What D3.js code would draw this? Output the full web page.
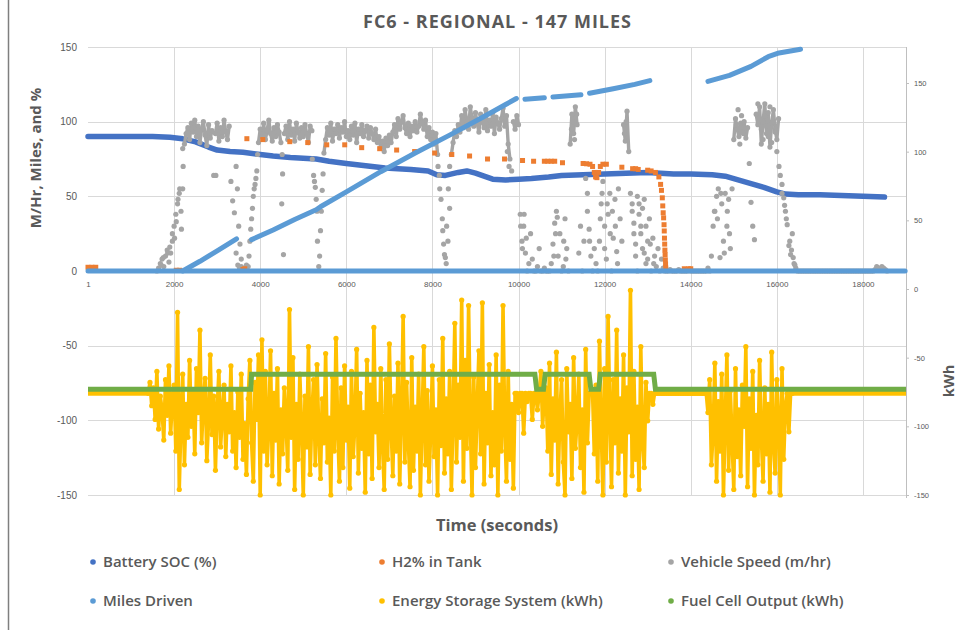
<!DOCTYPE html>
<html>
<head>
<meta charset="utf-8">
<script src="https://cdn.jsdelivr.net/npm/d3@7"></script>
<style>
  body { margin: 0; background: #fff; }
  svg { display: block; font-family: "Open Sans", sans-serif; }
  .tick text { fill: #595959; }
  .ttl { fill: #595959; font-weight: 700; }
</style>
</head>
<body>
<svg id="chart" width="959" height="630"></svg>
<script>
// ---- data (time in seconds) ----
const xTicks = [1, 2000, 4000, 6000, 8000, 10000, 12000, 14000, 16000, 18000];
const leftTicks = [150, 100, 50, 0, -50, -100, -150];
const rightTicks = [150, 100, 50, 0, -50, -100, -150];

// battery state of charge (%), [time, value]
const batterySOC = [[0,90],[500,90],[1000,90],[1500,90],[1900,89.5],[2200,88.5],[2500,86.5],[2800,83],[3000,81],
  [3300,80],[3600,79.5],[4000,78],[4300,77],[4700,76],[5000,75.5],[5300,75],[5600,73.5],[6000,72],[6300,71],
  [6600,70],[6900,69],[7200,68.5],[7500,68],[7900,67],[8100,64.5],[8300,64],[8600,66],[8800,67],[9000,65.5],
  [9200,63.5],[9400,61.5],[9700,61],[10000,61.5],[10300,62],[10700,63],[11000,64],[11500,64.5],[12000,65],
  [12500,65.5],[13000,66],[13300,65.5],[13600,65],[14000,65],[14500,64.5],[14800,63.5],[15100,61],[15400,58.5],
  [15700,56],[16000,53],[16200,51.5],[16500,51],[17000,51],[17500,50.5],[18000,50],[18500,49.5]];

// hydrogen left in tank (%), [time, value]
const h2Tank = [[0,2.5],[90,2.5],[180,2.5],[2050,0.5],[2130,0.5],[3600,1],[3640,1.5],[3690,88.6],[4060,88],
  [4687,86.6],[5104,86],[5545,84.5],[5963,84.5],[6357,82.6],[6775,81.9],[7169,81],[7587,80],[8051,79],[8450,78],
  [8863,77],[9280,75],[9675,75],[10093,74],[10350,73.5],[10600,73.5],[10680,73.5],[10760,73.5],[10840,73.5],
  [11021,72.5],[11500,72],[11580,71.8],[11660,71.5],[11720,70],[11760,66],[11790,63],[11820,62.5],[11860,66],
  [11900,70],[11960,71.5],[12040,71.5],[12400,69.5],[12650,68.5],[12720,68.5],[12780,68],[13000,67.5],[13080,67],
  [13180,66],[13260,63],[13300,58],[13320,54],[13340,49],[13350,43.6],[13360,39],[13370,35.6],[13380,31],
  [13385,26.8],[13390,22],[13395,18],[13400,14],[13405,11],[13410,7.5],[13415,4.7],[13420,2],[13850,1.5],
  [13950,1.5],[14000,1.5]];

// vehicle speed (m/hr), sampled every SPEED_STEP seconds from SPEED_T0
const SPEED_T0 = 1600, SPEED_STEP = 40, CRUISE_MIN = 75;
const vehicleSpeed = [
  0,2,5,8,3,10,14,6,12,20,30,38,45,52,40,55,85,92,96,88,99,93,101,90,97,
  86,95,100,91,84,98,89,94,64,92,99,87,96,90,101,93,88,97,60,47,39,12,4,2,3,
  1,2,4,3,20,35,50,58,67,86,95,90,99,88,94,101,92,87,96,90,98,93,86,65,92,
  97,88,100,91,95,87,99,93,89,96,90,98,92,86,97,94,64,56,40,3,27,54,79,88,96,
  91,99,87,95,92,98,89,96,93,100,90,94,88,97,91,99,86,95,92,98,90,94,97,89,96,
  92,88,95,86,90,83,87,80,89,84,91,86,93,98,90,102,95,100,104,96,92,99,90,97,94,
  100,93,97,105,99,95,101,90,96,88,93,85,92,78,64,48,27,11,5,20,42,78,86,94,90,
  98,93,104,96,108,100,95,110,102,97,106,99,93,105,100,96,108,94,101,97,106,92,103,99,95,
  102,109,97,104,85,75,67,100,95,104,98,38,20,30,12,0,5,25,8,0,0,3,15,0,0,
  2,0,0,0,5,18,32,40,10,25,0,3,35,15,0,85,105,92,110,98,12,30,0,20,62,
  52,28,10,0,15,5,0,20,45,60,30,8,38,52,0,22,48,13,55,35,20,98,87,107,80,
  52,40,25,10,0,45,30,15,48,5,20,35,0,22,10,3,15,0,8,2,0,0,0,1,0,
  0,0,0,1,0,0,0,0,0,1,0,0,0,0,0,0,0,0,0,0,2,0,10,30,40,
  50,55,9,45,20,52,30,48,15,55,88,102,95,90,99,93,100,89,96,72,46,30,21,105,98,
  110,85,100,112,92,106,83,99,108,95,88,102,64,58,49,40,31,17,11,25,5,2,0,0,0,
  0,0,0,0,0,0,0,0,0,0,0,0,0,0,0,0,0,0,0,0,0,0,0,0,0,
  0,0,0,0,0,0,0,0,0,0,0,0,0,0,0,0,0,1,3,2,1,3,2,1,0];
// extra speed readings at starts and stops, [time, value]
const speedExtra = [[1700,4],[1750,9],[1850,12],[1900,16],[1960,25],[2010,22],[2050,33],[2090,48],[2130,55],
  [2170,28],[2200,82],[2210,70],[2970,64],[3440,70],[3470,55],[3500,30],[3530,18],[3560,8],[3740,10],[3780,28],
  [3820,42],[3860,55],[3900,62],[3940,78],[4500,45],[4510,78],[4540,11],[5210,75],[5260,60],[5300,48],[5330,20],
  [5380,10],[5420,40],[5460,65],[8130,70],[8170,55],[8230,35],[8260,18],[8300,9],[8330,30],[8370,55],[8400,70],
  [9740,80],[9780,70],[10050,30],[10090,15],[10130,38],[10180,22],[10820,10],[10860,25],[10900,36],[11050,20],
  [11100,8],[11230,95],[11270,100],[11300,88],[11350,105],[11600,40],[11650,20],[11900,35],[11940,52],[12000,15],
  [12060,45],[12130,25],[12180,40],[12250,30],[12300,5],[12460,92],[12500,100],[12640,45],[12680,32],[12720,18],
  [12760,50],[12800,38],[12840,25],[12880,42],[12920,12],[12960,30],[13000,8],[13060,18],[13140,5],[14550,40],
  [14620,35],[14700,52],[14780,12],[14850,40],[14900,25],[15060,98],[15100,108],[15140,85],[15180,104],[15220,92],
  [15560,112],[15640,95],[15680,88],[15720,104],[15760,97],[15800,90],[15840,110],[15880,86],[15920,100],
  [15960,93],[16000,80],[16050,70],[16120,52],[16180,44],[16220,35],[16300,20],[16340,14],[16380,9],[16420,4]];

// miles driven, drawn as separate runs where the logger kept data
const milesDriven = [
  [[0,0],[18980,0]],
  [[2200,0],[2600,6.5],[3000,13.5],[3450,21.5]],
  [[3800,21],[4300,27.5],[4800,34.5],[5300,41],[5400,43],[6000,53],[6800,66.5],[7600,79],[8400,91],[9200,103.5],
   [9700,111.5],[9950,115.5]],
  [[10150,115],[10600,116]],
  [[10800,116.5],[11450,118]],
  [[11650,119],[12200,122],[12700,125],[13050,127.5]],
  [[14400,127],[14900,131],[15400,137],[15800,143.5],[16050,146],[16350,147.5],[16550,148.5]]];

// energy storage system (kWh), sampled every ESS_STEP seconds from ESS_T0
const ESS_T0 = 1400, ESS_STEP = 40, ESS_IDLE = -76;
const energyStorage = [
  -76,-68,-85,-72,-95,-60,-102,-78,-88,-110,-66,-92,-56,-105,-80,-70,-118,-17,-146,-95,-62,-128,-84,-108,-52,
  -100,-74,-120,-58,-90,-30,-112,-82,-65,-125,-96,-48,-106,-78,-132,-88,-60,-115,-92,-70,-122,-84,-104,-56,-118,
  -90,-130,-75,-108,-62,-124,-98,-135,-80,-52,-112,-140,-68,-95,-48,-150,-37,-118,-60,-128,-100,-45,-136,-76,-110,
  -58,-142,-88,-120,-72,-96,-132,-15,-108,-50,-146,-84,-124,-62,-100,-150,-78,-115,-42,-135,-92,-66,-128,-55,-104,
  -138,-80,-112,-47,-126,-94,-150,-64,-118,-36,-102,-140,-72,-130,-56,-110,-86,-145,-60,-122,-98,-44,-134,-76,-116,
  -90,-148,-52,-120,-70,-138,-28,-104,-84,-130,-58,-112,-146,-66,-124,-40,-100,-136,-78,-118,-54,-142,-92,-20,-126,
  -68,-110,-144,-50,-132,-86,-118,-62,-150,-96,-42,-128,-74,-140,-104,-56,-122,-88,-150,-66,-114,-36,-134,-80,-120,
  -60,-146,-92,-25,-126,-70,-108,-8,-140,-52,-116,-12,-98,-150,-64,-130,-86,-45,-120,-10,-142,-76,-112,-55,-136,
  -90,-128,-48,-150,-70,-118,-12,-100,-140,-60,-124,-84,-145,-76,-76,-90,-76,-76,-105,-76,-82,-76,-76,-95,-76,
  -76,-88,-76,-60,-100,-76,-72,-118,-54,-135,-80,-110,-46,-142,-92,-66,-126,-150,-58,-104,-84,-138,-50,-116,-96,
  -62,-130,-88,-148,-44,-112,-76,-76,-76,-120,-70,-140,-38,-100,-150,-58,-126,-20,-90,-144,-66,-112,-30,-134,-80,
  -118,-48,-150,-72,-104,-1,-136,-60,-124,-86,-146,-42,-110,-130,-68,-96,-76,-76,-84,-76,-76,-76,-76,-76,-76,
  -76,-76,-76,-76,-76,-76,-76,-76,-76,-76,-76,-76,-76,-76,-76,-76,-76,-76,-76,-76,-76,-76,-76,-76,-76,
  -90,-66,-128,-104,-54,-140,-82,-118,-62,-150,-96,-48,-132,-74,-110,-146,-58,-122,-88,-136,-70,-100,-42,-144,-80,
  -116,-60,-150,-92,-128,-52,-108,-140,-72,-120,-84,-148,-46,-112,-134,-66,-98,-150,-58,-124,-86,-76,-104,-76,-76];
const TIME_END = 19000;

// fuel cell output (kWh), [time, value]
const fuelCell = [[0,-73],[3780,-73],[3800,-62],[10380,-62],[10420,-73],[10580,-73],[10620,-62],[11640,-62],
  [11680,-73],[11860,-73],[11900,-62],[13140,-62],[13180,-73],[19000,-73]];

const legendItems = [
  { name: "Battery SOC (%)", color: "#4472C4" },
  { name: "H2% in Tank", color: "#ED7D31" },
  { name: "Vehicle Speed (m/hr)", color: "#A5A5A5" },
  { name: "Miles Driven", color: "#5B9BD5" },
  { name: "Energy Storage System (kWh)", color: "#FFC000" },
  { name: "Fuel Cell Output (kWh)", color: "#70AD47" }];

// ---- scales ----
const svg = d3.select("#chart");
const x = d3.scaleLinear().domain([0, TIME_END]).range([88, 906]);
const yL = d3.scaleLinear().domain([-150, 150]).range([495, 47]);
const yR = d3.scaleLinear().domain([-150, 150]).range([495, 83]);

// frame edge on the left
svg.append("line").attr("x1", 8.5).attr("x2", 8.5).attr("y1", 0).attr("y2", 630)
  .attr("stroke", "#7f7f7f").attr("stroke-width", 1.5);

// gridlines
const grid = svg.append("g").attr("stroke", "#D9D9D9").attr("stroke-width", 1);
grid.selectAll(".h").data(leftTicks).enter().append("line")
  .attr("x1", x(0)).attr("x2", x(TIME_END))
  .attr("y1", d => Math.round(yL(d)) + 0.5).attr("y2", d => Math.round(yL(d)) + 0.5);
grid.selectAll(".v").data(xTicks.slice(1)).enter().append("line")
  .attr("x1", d => Math.round(x(d)) + 0.5).attr("x2", d => Math.round(x(d)) + 0.5)
  .attr("y1", yL(150)).attr("y2", yL(-150));

// axes
const leftAxis = svg.append("g").attr("transform", `translate(${x(0)},0)`)
  .call(d3.axisLeft(yL).tickValues(leftTicks).tickSize(0).tickPadding(11).tickFormat(d => String(d)));
leftAxis.select(".domain").remove();
leftAxis.selectAll("text").style("font-size", "10px");

const bottomAxis = svg.append("g").attr("transform", `translate(0,${yL(0)})`)
  .call(d3.axisBottom(x).tickValues(xTicks).tickSize(0).tickPadding(10).tickFormat(d => String(d)));
bottomAxis.select(".domain").remove();
bottomAxis.selectAll("text").style("font-size", "8px");

const rightAxis = svg.append("g").attr("transform", `translate(${x(TIME_END)},0)`)
  .call(d3.axisRight(yR).tickValues(rightTicks).tickSize(3).tickSizeOuter(0).tickPadding(5).tickFormat(d => String(d)));
rightAxis.select(".domain").remove();
rightAxis.selectAll("line").attr("stroke", "#BFBFBF");
rightAxis.selectAll("text").style("font-size", "7.5px");
svg.append("line").attr("x1", x(TIME_END) + 0.5).attr("x2", x(TIME_END) + 0.5)
  .attr("y1", yL(150)).attr("y2", yL(-150) + 3).attr("stroke", "#BFBFBF");

// ---- series ----
const lineL = d3.line().x(d => x(d[0])).y(d => yL(d[1]));
const lineR = d3.line().x(d => x(d[0])).y(d => yR(d[1]));

// battery SOC
svg.append("path").datum(batterySOC).attr("d", lineL)
  .attr("fill", "none").attr("stroke", "#4472C4").attr("stroke-width", 5.5)
  .attr("stroke-linecap", "round").attr("stroke-linejoin", "round");

// vehicle speed: dense 1 Hz readings while cruising read as a solid band
const speedSampled = vehicleSpeed.map((v, i) => [SPEED_T0 + i * SPEED_STEP, v]);
const cruiseRuns = [];
let run = [];
speedSampled.forEach(d => {
  if (d[1] >= CRUISE_MIN) run.push(d);
  else { if (run.length > 1) cruiseRuns.push(run); run = []; }
});
if (run.length > 1) cruiseRuns.push(run);
svg.append("g").selectAll("path").data(cruiseRuns).enter().append("path")
  .attr("d", lineL).attr("fill", "none").attr("stroke", "#A5A5A5").attr("stroke-width", 3.4)
  .attr("stroke-linejoin", "round");
svg.append("g").attr("fill", "#A5A5A5").selectAll("circle").data(speedSampled.concat(speedExtra)).enter()
  .append("circle").attr("cx", d => x(d[0])).attr("cy", d => yL(d[1])).attr("r", 2.6);

// H2 in tank
svg.append("g").attr("fill", "#ED7D31").selectAll("rect").data(h2Tank).enter().append("rect")
  .attr("x", d => x(d[0]) - 2.5).attr("y", d => yL(d[1]) - 2.5).attr("width", 5).attr("height", 5);

// miles driven
svg.append("g").selectAll("path").data(milesDriven).enter().append("path")
  .attr("d", lineL).attr("fill", "none").attr("stroke", "#5B9BD5").attr("stroke-width", 5)
  .attr("stroke-linecap", "round").attr("stroke-linejoin", "round");

// energy storage system
const essPts = energyStorage.map((v, i) => [ESS_T0 + i * ESS_STEP, v]);
const essEnd = essPts[essPts.length - 1][0];
[[[0, ESS_IDLE], [ESS_T0, ESS_IDLE]], [[essEnd, ESS_IDLE], [TIME_END, ESS_IDLE]]].forEach(seg => {
  svg.append("path").datum(seg).attr("d", lineR).attr("fill", "none")
    .attr("stroke", "#FFC000").attr("stroke-width", 5);
});
svg.append("path").datum(essPts).attr("d", lineR).attr("fill", "none")
  .attr("stroke", "#FFC000").attr("stroke-width", 3.6).attr("stroke-linejoin", "round");
svg.append("g").attr("fill", "#FFC000").selectAll("circle").data(essPts).enter().append("circle")
  .attr("cx", d => x(d[0])).attr("cy", d => yR(d[1])).attr("r", 2.6);

// fuel cell output
svg.append("path").datum(fuelCell).attr("d", lineR)
  .attr("fill", "none").attr("stroke", "#70AD47").attr("stroke-width", 5);

// ---- titles ----
svg.append("text").attr("class", "ttl").attr("x", 497).attr("y", 28)
  .attr("text-anchor", "middle").attr("textLength", 268).attr("lengthAdjust", "spacing")
  .style("font-size", "18px").text("FC6 - REGIONAL - 147 MILES");
svg.append("text").attr("class", "ttl").attr("transform", "translate(41,158) rotate(-90)")
  .attr("text-anchor", "middle").style("font-size", "15px").text("M/Hr, Miles, and %");
svg.append("text").attr("class", "ttl").attr("transform", "translate(954,381) rotate(-90)")
  .attr("text-anchor", "middle").style("font-size", "14.5px").text("kWh");
svg.append("text").attr("class", "ttl").attr("x", 497).attr("y", 531)
  .attr("text-anchor", "middle").style("font-size", "16.5px").text("Time (seconds)");

// ---- legend ----
const legendCols = [93, 382, 671], legendRows = [562, 601];
const leg = svg.append("g").selectAll("g").data(legendItems).enter().append("g")
  .attr("transform", (d, i) => `translate(${legendCols[i % 3]},${legendRows[Math.floor(i / 3)]})`);
leg.append("circle").attr("r", 2.8).attr("fill", d => d.color);
leg.append("text").attr("x", 10).attr("dy", "0.35em").attr("fill", "#595959")
  .style("font-size", "15px").style("font-weight", 600).text(d => d.name);
</script>
</body>
</html>
